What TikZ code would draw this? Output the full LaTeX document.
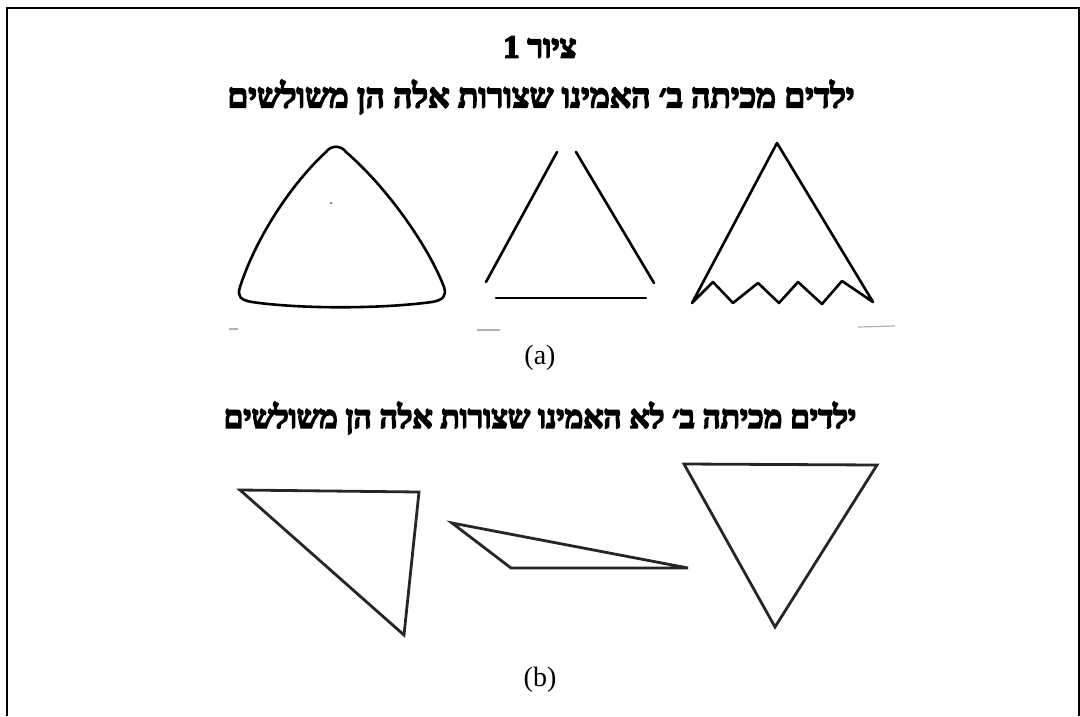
\documentclass[tikz,border=0pt]{standalone}
\usepackage{fontspec}
\setmainfont{Liberation Serif}
\newfontfamily\hebfont[Script=Hebrew]{Liberation Serif}
\TeXXeTstate=1
\newcommand\heavytext[1]{\special{pdf:literal direct 2 Tr 1.6 w}#1\special{pdf:literal direct 0 Tr}}
\begin{document}
\begin{tikzpicture}[x=1pt,y=-1pt,
  shapeline/.style={line width=2.6pt,line join=round,line cap=round,black},
  bshape/.style={line width=2.8pt,line join=miter,black!85},
  hebA/.style={font=\hebfont\bfseries\fontsize{33.5}{38}\selectfont},
  hebB/.style={font=\hebfont\bfseries\fontsize{31.5}{36}\selectfont},
  hebT/.style={font=\hebfont\bfseries\fontsize{32}{34}\selectfont},
  lbl/.style={font=\fontsize{28}{32}\selectfont},
  faint/.style={line width=1.2pt,black!30}]
\useasboundingbox (0,0) rectangle (1080,716);
\draw[line width=2.2pt] (7,716) -- (7,8) -- (1080,8);
\draw[line width=1.5pt] (1079,8) -- (1079,716);
% texts
\node[hebT] (title) at (540,47) {\heavytext{\beginR ציור 1\endR}};
\node[hebA] (lineA) at (541,97) {\heavytext{\beginR ילדים מכיתה ב׳ האמינו שצורות אלה הן משולשים\endR}};
\node[lbl] (capA) at (540,358) {(a)};
\node[hebB] (lineB) at (540,418) {\heavytext{\beginR ילדים מכיתה ב׳ לא האמינו שצורות אלה הן משולשים\endR}};
\node[lbl] (capB) at (540,680) {(b)};
% (a) rounded triangle
\draw[shapeline] (326,152) .. controls (331,145) and (341,145) .. (346,152)
  .. controls (390,190) and (430,250) .. (444,287)
  .. controls (447,296) and (443,300) .. (432,302)
  .. controls (380,309) and (300,309) .. (252,302)
  .. controls (240,300) and (237,296) .. (240,287)
  .. controls (255,240) and (290,185) .. (326,152) -- cycle;
\fill[black!50] (331,203) circle (1.3pt);
% (a) open triangle
\draw[shapeline] (486,282) -- (557,152);
\draw[shapeline] (576,152) -- (654,283);
\draw[shapeline] (496,298) -- (646,298);
% (a) zigzag triangle
\draw[shapeline] (692,303) -- (777,143) -- (873,302) -- (842,281) -- (822,304) -- (798,282) -- (779,303) -- (758,283) -- (733,303) -- (713,282) -- cycle;
% faint marks
\draw[faint] (229,329) -- (238,329);
\draw[faint] (477,330) -- (500,330);
\draw[faint] (858,327) -- (895,326);
% (b) triangles
\draw[bshape] (240,490) -- (419,492) -- (404,635) -- cycle;
\draw[bshape] (452,523) -- (688,568) -- (511,568) -- cycle;
\draw[bshape] (684,464) -- (877,465) -- (775,627) -- cycle;
\end{tikzpicture}
\end{document}
